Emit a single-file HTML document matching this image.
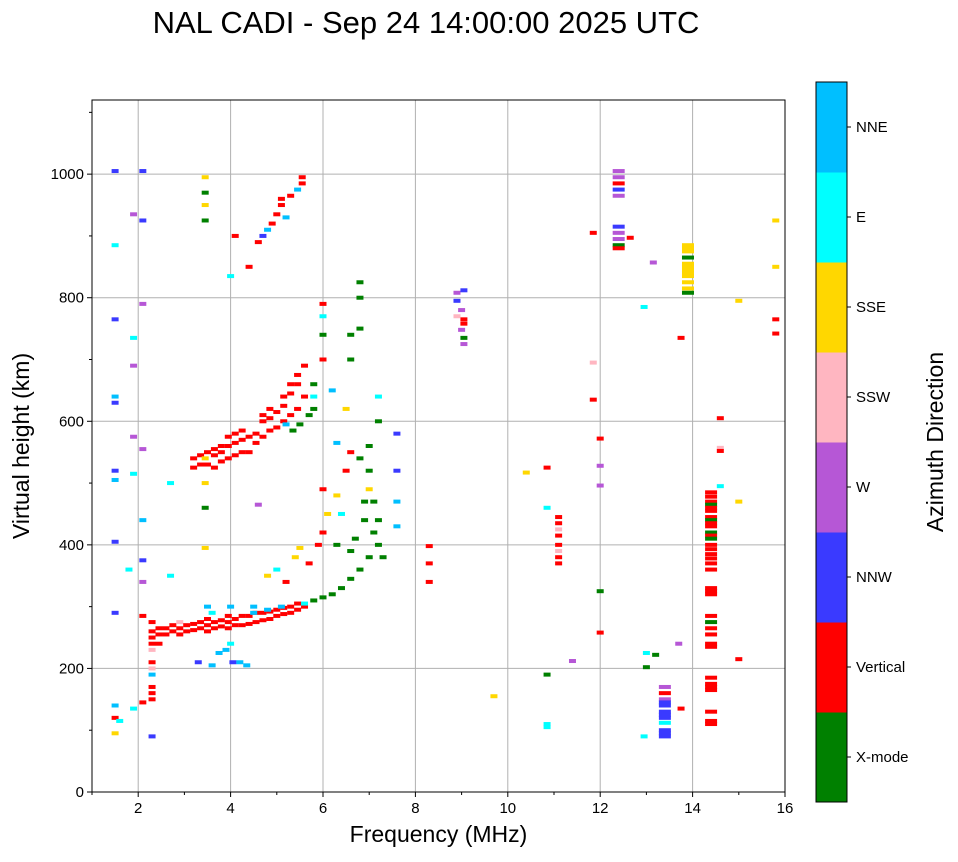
<!DOCTYPE html>
<html><head><meta charset="utf-8"><style>
body{margin:0;background:#fff;font-family:"Liberation Sans",sans-serif}
svg text{font-family:"Liberation Sans",sans-serif;fill:#000}
</style></head><body>
<svg id="chart" width="958" height="857" xmlns="http://www.w3.org/2000/svg">
<text x="426" y="33" font-size="31" text-anchor="middle">NAL CADI - Sep 24 14:00:00 2025 UTC</text>
<g id="grid"></g><g id="marks"></g><g id="axes"></g><g id="cbar"></g>
</svg>
<script>
const dirNames=["X-mode","Vertical","NNW","W","SSW","SSE","E","NNE"];
const dirColors=["#008000","#ff0000","#3a3aff","#b657d6","#ffb6c1","#ffd700","#00ffff","#00bfff"];
const xTicks=[2,4,6,8,10,12,14,16];
const yTicks=[0,200,400,600,800,1000];
// [freq MHz, height km, direction index]
const freqs=[];const heights=[];const dirs=[];
const raw=`2.3 150 1;2.3 170 1;2.3 190 7;2.3 210 1;2.3 230 4;2.3 250 1;2.3 260 1;2.3 275 1;2.3 160 1;2.3 200 4;2.3 240 1;2.45 240 1;2.45 255 1;2.45 265 1;2.6 255 1;2.6 265 1;2.75 260 1;2.75 270 1;2.9 255 1;2.9 265 1;2.9 275 4;3.05 260 1;3.05 270 1;3.2 262 1;3.2 272 1;3.35 265 1;3.35 275 1;3.5 260 1;3.5 270 1;3.5 280 1;3.65 265 1;3.65 275 1;3.8 268 1;3.8 278 1;3.95 265 1;3.95 275 1;3.95 285 1;4.1 270 1;4.1 280 1;4.25 270 1;4.25 285 1;4.4 272 1;4.4 285 1;4.55 275 1;4.55 290 1;4.7 278 1;4.7 290 1;4.85 280 1;4.85 292 1;5.0 285 1;5.0 295 1;5.15 288 1;5.15 298 1;5.3 290 1;5.3 300 1;5.45 295 1;5.45 305 1;5.6 300 1;
3.5 300 7;3.6 290 6;4.0 300 7;4.5 290 7;4.5 300 7;4.8 295 7;5.1 300 7;5.6 305 6;5.8 310 0;6.0 315 0;6.2 320 0;6.4 330 0;6.6 345 0;6.8 360 0;7.0 380 0;7.2 400 0;
3.6 205 7;3.75 225 7;3.9 230 7;4.05 210 2;4.2 210 7;4.35 205 7;4.0 240 6;3.3 210 2;
4.8 350 5;5.0 360 6;5.2 340 1;5.4 380 5;5.5 395 5;5.7 370 1;5.9 400 1;6.0 420 1;6.1 450 5;6.0 490 1;6.3 480 5;6.5 520 1;6.6 550 1;6.8 540 0;7.0 520 0;7.1 470 0;7.2 440 0;6.9 440 0;6.7 410 0;7.3 380 0;7.6 470 7;7.6 430 7;7.6 520 2;7.6 580 2;6.3 400 0;6.6 390 0;6.4 450 6;6.3 565 7;6.5 620 5;6.2 650 7;6.6 740 0;6.6 700 0;6.8 750 0;6.8 800 0;6.8 825 0;7.2 640 6;7.2 600 0;7.0 560 0;7.0 490 5;6.9 470 0;7.1 420 0;
3.2 525 1;3.2 540 1;3.35 530 1;3.35 545 1;3.5 530 1;3.5 550 1;3.65 525 1;3.65 545 1;3.65 555 1;3.8 535 1;3.8 550 1;3.8 560 1;3.95 540 1;3.95 560 1;3.95 575 1;4.1 545 1;4.1 565 1;4.1 580 1;4.25 550 1;4.25 570 1;4.25 585 1;4.4 550 1;4.4 575 1;4.55 565 1;4.55 580 1;4.7 575 1;4.7 600 1;4.7 610 1;4.85 585 1;4.85 605 1;4.85 620 1;5.0 590 1;5.0 615 1;5.15 600 1;5.15 625 1;5.15 640 1;5.3 610 1;5.3 645 1;5.3 660 1;5.45 620 1;5.45 660 1;5.45 675 1;5.6 640 1;5.6 690 1;5.8 620 0;5.8 640 6;5.8 660 0;6.0 700 1;6.0 740 0;6.0 790 1;6.0 770 6;5.35 585 0;5.5 595 0;5.7 610 0;5.2 595 7;4.6 465 3;
4.4 850 1;4.6 890 1;4.7 900 2;4.8 910 7;4.9 920 1;5.0 935 1;5.1 950 1;5.2 930 7;5.3 965 1;5.45 975 7;5.55 985 1;5.55 995 1;4.1 900 1;5.1 960 1;4.0 835 6;
1.5 1005 2;1.5 885 6;1.5 765 2;1.5 630 2;1.5 640 7;1.5 520 2;1.5 505 7;1.5 405 2;1.5 290 2;1.5 140 7;1.5 120 1;1.5 95 5;1.6 115 6;2.1 1005 2;2.1 925 2;2.1 790 3;2.1 555 3;2.1 440 7;2.1 375 2;2.1 340 3;2.1 285 1;2.1 145 1;2.3 90 2;1.9 935 3;1.9 735 6;1.9 690 3;1.9 575 3;1.9 515 6;1.8 360 6;1.9 135 6;3.45 995 5;3.45 970 0;3.45 950 5;3.45 925 0;3.45 540 5;3.45 500 5;3.45 460 0;3.45 395 5;2.7 350 6;2.7 500 6;
8.3 398 1;8.3 370 1;8.3 340 1;8.9 808 3;9.05 812 2;8.9 795 2;9.0 780 3;9.05 765 1;9.05 758 1;9.0 748 3;9.05 735 0;9.05 725 3;8.9 770 4;9.7 155 5;10.4 517 5;10.85 525 1;10.85 460 6;10.85 190 0;10.85 110 6;10.85 105 6;
11.1 445 1;11.1 435 1;11.1 425 4;11.1 415 1;11.1 400 1;11.1 390 4;11.1 380 1;11.1 370 1;11.4 212 3;11.85 905 1;11.85 695 4;11.85 635 1;12.0 572 1;12.0 528 3;12.0 496 3;12.0 325 0;12.0 258 1;
12.4 1005 3;12.4 995 3;12.4 985 1;12.4 975 2;12.4 965 3;12.4 915 2;12.4 905 3;12.4 895 3;12.4 885 0;12.4 880 1;12.65 897 1;12.95 785 6;13.15 857 3;13.0 225 6;13.0 202 0;12.95 90 6;13.2 222 0;
13.4 170 3;13.4 160 1;13.4 150 3;13.4 140 2;13.4 130 2;13.4 120 2;13.4 112 6;13.4 100 2;13.4 90 2;13.4 145 2;13.4 125 2;13.4 95 2;13.75 735 1;13.75 135 1;13.7 240 3;
13.9 885 5;13.9 875 5;13.9 865 0;13.9 855 5;13.9 845 5;13.9 835 5;13.9 825 5;13.9 815 5;13.9 808 0;13.9 880 5;13.9 850 5;13.9 840 5;
14.4 485 1;14.4 478 1;14.4 470 1;14.4 465 0;14.4 460 1;14.4 455 1;14.4 445 1;14.4 440 0;14.4 435 1;14.4 430 1;14.4 420 0;14.4 415 1;14.4 410 0;14.4 400 1;14.4 393 1;14.4 385 1;14.4 378 1;14.4 370 1;14.4 360 1;14.4 330 1;14.4 325 1;14.4 320 1;14.4 285 1;14.4 275 0;14.4 265 1;14.4 255 1;14.4 240 1;14.4 235 1;14.4 185 1;14.4 175 1;14.4 165 1;14.4 170 1;14.4 130 1;14.4 115 1;14.4 110 1;
14.6 605 1;14.6 557 4;14.6 552 1;14.6 495 6;15.0 470 5;15.0 215 1;15.0 795 5;15.8 925 5;15.8 850 5;15.8 765 1;15.8 742 1`;
raw.split(';').forEach(s=>{const p=s.trim().split(/\s+/).map(Number);freqs.push(p[0]);heights.push(p[1]);dirs.push(p[2]);});

const L=92,R=785,T=100,B=792;
const xS=f=>L+(f-1)/15*(R-L);
const yS=h=>B-h/1120*(B-T);
const NS="http://www.w3.org/2000/svg";
function mk(tag,attrs,parent){const e=document.createElementNS(NS,tag);for(const k in attrs)e.setAttribute(k,attrs[k]);parent.appendChild(e);return e;}
const grid=document.getElementById('grid'),marks=document.getElementById('marks'),axes=document.getElementById('axes'),cb=document.getElementById('cbar');
xTicks.forEach(v=>{const l=mk('line',{x1:xS(v),x2:xS(v),y1:T,y2:B,stroke:'#b0b0b0','stroke-width':1},grid);

});
yTicks.forEach(v=>{const l=mk('line',{x1:L,x2:R,y1:yS(v),y2:yS(v),stroke:'#b0b0b0','stroke-width':1},grid);

});
for(let i=0;i<freqs.length;i++){
 const wide=(freqs[i]===14.4||freqs[i]===13.4||freqs[i]===12.4||freqs[i]===13.9);
 const w=wide?12:7;
 const r=mk('rect',{x:xS(freqs[i])-w/2,y:yS(heights[i])-2,width:w,height:4,fill:dirColors[dirs[i]]},marks);
 
 
}
const frame=mk('rect',{x:L,y:T,width:R-L,height:B-T,fill:'none',stroke:'#000','stroke-width':1},axes);


xTicks.forEach(v=>{mk('line',{x1:xS(v),x2:xS(v),y1:B,y2:B+5,stroke:'#000'},axes);
 const t=mk('text',{x:xS(v),y:B+21,'font-size':15,'text-anchor':'middle'},axes);t.textContent=v;
 
 });
for(let v=1;v<=15;v+=2)mk('line',{x1:xS(v),x2:xS(v),y1:B,y2:B+3,stroke:'#000'},axes);
yTicks.forEach(v=>{mk('line',{x1:L-5,x2:L,y1:yS(v),y2:yS(v),stroke:'#000'},axes);
 const t=mk('text',{x:L-8,y:yS(v)+5,'font-size':15,'text-anchor':'end'},axes);t.textContent=v;
 
 });
for(let v=100;v<=1100;v+=200)mk('line',{x1:L-3,x2:L,y1:yS(v),y2:yS(v),stroke:'#000'},axes);
const xl=mk('text',{x:(L+R)/2,y:842,'font-size':23,'text-anchor':'middle'},axes);xl.textContent='Frequency (MHz)';


const yl=mk('text',{x:0,y:0,'font-size':23,'text-anchor':'middle',transform:'translate(29,446) rotate(-90)'},axes);yl.textContent='Virtual height (km)';


const cT=82,cB=802,cL=816,cW=31,bh=(cB-cT)/8;
dirNames.forEach((n,i)=>{const y0=cB-(i+1)*bh;
 const r=mk('rect',{x:cL,y:y0,width:cW,height:bh+0.5,fill:dirColors[i]},cb);
 
 
 mk('line',{x1:cL+cW,x2:cL+cW+4,y1:y0+bh/2,y2:y0+bh/2,stroke:'#000'},cb);
 const t=mk('text',{x:cL+cW+9,y:y0+bh/2+5,'font-size':15},cb);t.textContent=n;
 
 });
const cf=mk('rect',{x:cL,y:cT,width:cW,height:cB-cT,fill:'none',stroke:'#000'},cb);


const ct=mk('text',{x:0,y:0,'font-size':23,'text-anchor':'middle',transform:'translate(943,442) rotate(-90)'},cb);ct.textContent='Azimuth Direction';


</script>
</body></html>
